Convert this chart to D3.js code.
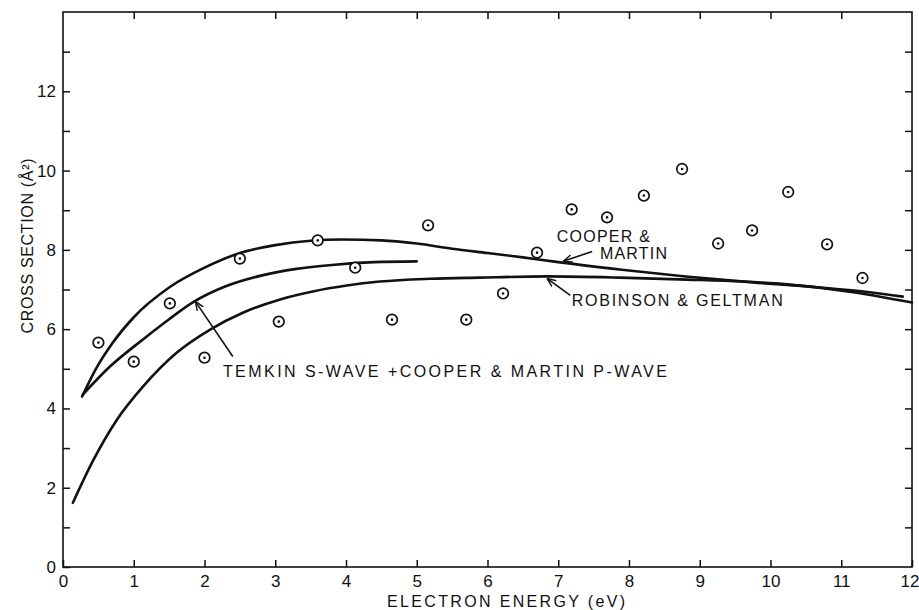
<!DOCTYPE html>
<html>
<head>
<meta charset="utf-8">
<script src="https://cdn.jsdelivr.net/npm/d3@7"></script>
<style>
  html, body { margin: 0; padding: 0; background: #fff; }
  svg { display: block; }
  text { font-family: "Liberation Sans", Arial, sans-serif; fill: #111; }
</style>
</head>
<body>
<svg id="chart" width="919" height="610"></svg>
<script>
// ---- data ----
const xTicks = [0,1,2,3,4,5,6,7,8,9,10,11,12];
const yTicks = [0,1,2,3,4,5,6,7,8,9,10,11,12,13];
const yLabels = [0,2,4,6,8,10,12];

// experimental points
const ptX = [0.5, 1.0, 1.51, 2.0, 2.5, 3.05, 3.6, 4.13, 4.65, 5.16, 5.7, 6.22, 6.7, 7.19, 7.69, 8.21, 8.75, 9.26, 9.74, 10.25, 10.8, 11.3];
const ptY = [5.66, 5.18, 6.65, 5.28, 7.78, 6.19, 8.24, 7.55, 6.24, 8.62, 6.24, 6.9, 7.93, 9.02, 8.82, 9.37, 10.04, 8.16, 8.49, 9.46, 8.14, 7.29];

// Cooper & Martin curve
const cmX = [0.27, 0.45, 0.7, 1.0, 1.5, 2.0, 2.5, 3.0, 3.5, 3.95, 4.5, 5.0, 5.5, 6.0, 6.5, 7.0, 7.9, 8.8, 9.75, 10.7, 11.4, 11.87];
const cmY = [4.3, 4.95, 5.65, 6.3, 7.05, 7.55, 7.92, 8.12, 8.23, 8.26, 8.24, 8.16, 8.03, 7.92, 7.81, 7.69, 7.5, 7.33, 7.18, 7.05, 6.93, 6.82];

// Temkin s-wave + Cooper & Martin p-wave curve
const tkX = [0.28, 0.66, 1.13, 1.5, 1.84, 2.3, 2.8, 3.3, 3.8, 4.4, 5.0];
const tkY = [4.35, 5.05, 5.74, 6.25, 6.68, 7.08, 7.35, 7.52, 7.62, 7.69, 7.71];

// Robinson & Geltman curve
const rgX = [0.14, 0.43, 0.76, 1.13, 1.61, 2.08, 2.55, 3.07, 3.53, 4.01, 4.48, 5.19, 5.89, 6.84, 7.87, 8.82, 9.6, 10.23, 11.17, 12.0];
const rgY = [1.62, 2.7, 3.71, 4.55, 5.41, 5.99, 6.42, 6.75, 6.95, 7.1, 7.2, 7.27, 7.3, 7.33, 7.3, 7.25, 7.2, 7.13, 6.93, 6.67];

// annotations
const labelText = ["COOPER &", "MARTIN", "ROBINSON & GELTMAN", "TEMKIN S-WAVE +COOPER & MARTIN P-WAVE"];
const labelX = [6.98, 7.59, 7.19, 2.26];
const labelY = [8.19, 7.76, 6.59, 4.80];
const labelLen = [93, 67, 211, 444];

const arrowFromX = [7.48, 7.17, 2.40];
const arrowFromY = [7.96, 6.85, 5.31];
const arrowToX = [7.07, 6.84, 1.87];
const arrowToY = [7.71, 7.28, 6.70];

// ---- layout ----
const svg = d3.select("#chart");
const L = 63, R = 912, T = 12, B = 567;
const x = d3.scaleLinear().domain([0, 12]).range([L, R]);
const y = d3.scaleLinear().domain([0, 14]).range([B, T]);

svg.append("defs").append("marker")
  .attr("id", "ah").attr("viewBox", "0 0 10 10").attr("refX", 10).attr("refY", 5)
  .attr("markerWidth", 9).attr("markerHeight", 9).attr("markerUnits", "userSpaceOnUse")
  .attr("orient", "auto")
  .append("path").attr("d", "M0,1 L10,5 L0,9").attr("fill", "none").attr("stroke", "#111").attr("stroke-width", 1.6);

// frame
svg.append("rect").attr("x", L).attr("y", T).attr("width", R - L).attr("height", B - T)
  .attr("fill", "none").attr("stroke", "#111").attr("stroke-width", 1.6);

// axes
const fontTick = "17px";
const gB = svg.append("g").attr("transform", `translate(0,${B})`)
  .call(d3.axisBottom(x).tickValues(xTicks).tickSize(-7).tickPadding(8).tickFormat(d3.format("d")));
const gL = svg.append("g").attr("transform", `translate(${L},0)`)
  .call(d3.axisLeft(y).tickValues(yTicks).tickSize(-7).tickPadding(7)
    .tickFormat(d => yLabels.includes(d) ? String(d) : ""));
const gT = svg.append("g").attr("transform", `translate(0,${T})`)
  .call(d3.axisTop(x).tickValues(xTicks.slice(1, -1)).tickSize(-7).tickFormat(""));
const gR = svg.append("g").attr("transform", `translate(${R},0)`)
  .call(d3.axisRight(y).tickValues(yTicks.slice(1)).tickSize(-7).tickFormat(""));

[gB, gL, gT, gR].forEach(g => {
  g.select(".domain").remove();
  g.selectAll(".tick line").attr("stroke", "#111").attr("stroke-width", 1.5);
  g.selectAll(".tick text").attr("font-size", fontTick)
    .attr("font-family", "'Liberation Sans', Arial, sans-serif").attr("fill", "#111");
});
// keep the last x label inside the picture
gB.selectAll(".tick text").filter(d => d === 12).attr("text-anchor", "end").attr("x", 7);

// axis titles
svg.append("text").attr("x", (387 + 625) / 2).attr("y", 607).attr("text-anchor", "middle")
  .attr("font-size", "16px").attr("textLength", 238).attr("lengthAdjust", "spacing")
  .text("ELECTRON ENERGY (eV)");
svg.append("text").attr("transform", "translate(33,246) rotate(-90)").attr("text-anchor", "middle")
  .attr("font-size", "16px").attr("textLength", 175).attr("lengthAdjust", "spacing")
  .text("CROSS SECTION (Å²)");

// curves
const line = d3.line().x(d => x(d[0])).y(d => y(d[1])).curve(d3.curveMonotoneX);
const curves = [[cmX, cmY], [tkX, tkY], [rgX, rgY]];
curves.forEach(([xs, ys]) => {
  svg.append("path").datum(xs.map((v, i) => [v, ys[i]]))
    .attr("d", line).attr("fill", "none").attr("stroke", "#111")
    .attr("stroke-width", 2.6).attr("stroke-linecap", "round");
});

// points
const pts = ptX.map((v, i) => [v, ptY[i]]);
const gp = svg.append("g");
gp.selectAll("circle.o").data(pts).join("circle").attr("class", "o")
  .attr("cx", d => x(d[0])).attr("cy", d => y(d[1])).attr("r", 5.3)
  .attr("fill", "#fff").attr("stroke", "#111").attr("stroke-width", 1.7);
gp.selectAll("circle.c").data(pts).join("circle").attr("class", "c")
  .attr("cx", d => x(d[0])).attr("cy", d => y(d[1])).attr("r", 1.3).attr("fill", "#111");

// arrows
arrowFromX.forEach((v, i) => {
  svg.append("line").attr("x1", x(v)).attr("y1", y(arrowFromY[i]))
    .attr("x2", x(arrowToX[i])).attr("y2", y(arrowToY[i]))
    .attr("stroke", "#111").attr("stroke-width", 1.6).attr("marker-end", "url(#ah)");
});

// labels
labelText.forEach((t, i) => {
  svg.append("text").attr("x", x(labelX[i])).attr("y", y(labelY[i]))
    .attr("font-size", "16px").attr("textLength", labelLen[i]).attr("lengthAdjust", "spacing")
    .text(t);
});
</script>
</body>
</html>
